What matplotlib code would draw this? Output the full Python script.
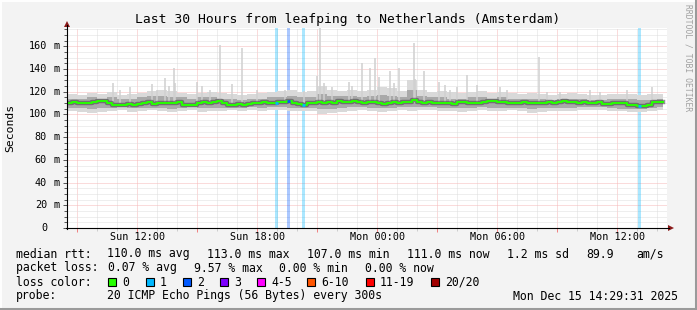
"""SmokePing style latency chart: leafping -> Netherlands (Amsterdam)."""

import matplotlib

matplotlib.use("Agg")
import matplotlib.pyplot as plt
import numpy as np
from matplotlib.lines import Line2D
from matplotlib.patches import Polygon, Rectangle

W, H = 697, 310
MONO = "DejaVu Sans Mono"
START_HOUR = 8 + 29 / 60 + 31 / 3600  # Sun 08:29:31, graph covers 30 hours

# median rtt in ms, one value per 15 minutes
median_rtt = [
    110.5, 110.8, 110.2, 110.0, 110.3, 110.8, 111.5, 112.2, 110.0, 108.8,
    108.5, 108.7, 108.9, 108.6, 109.5, 110.0, 110.8, 108.9, 110.5, 110.2,
    110.0, 110.4, 111.0, 108.7, 108.3, 108.6, 110.5, 110.8, 110.4, 110.6,
    111.5, 110.0, 108.5, 108.8, 109.2, 108.5, 109.5, 110.5, 110.3, 110.6,
    109.8, 110.0, 111.2, 111.0, 111.5, 110.2, 109.5, 108.0, 109.8, 110.2,
    110.6, 110.4, 110.6, 110.5, 112.0, 111.3, 111.0, 111.5, 110.6, 110.4,
    110.6, 110.8, 109.8, 109.6, 110.5, 110.8, 110.5, 111.0, 111.2, 112.8,
    111.0, 110.4, 110.6, 110.0, 109.8, 110.0, 110.2, 109.2, 110.6, 110.8,
    110.0, 109.8, 110.2, 111.4, 111.6, 111.5, 111.2, 110.6, 110.0, 109.8,
    110.5, 110.6, 110.3, 110.0, 109.8, 110.1, 110.6, 110.4, 110.7, 111.6,
    111.0, 110.8, 110.5, 110.6, 110.4, 110.5, 110.7, 109.5, 109.0, 109.8,
    110.1, 109.9, 108.6, 108.3, 107.5, 107.2, 108.0, 111.0, 111.2, 110.8,
]

# smoke envelope in ms, one value per 30 minutes
smoke_lo = [
    103, 102, 101, 102, 103, 104, 102, 103, 104, 103, 102, 103, 104, 102, 103,
    103, 104, 103, 104, 103, 104, 104, 103, 103, 103, 100, 101, 102, 103, 104,
    103, 102, 103, 104, 103, 104, 104, 103, 103, 102, 103, 104, 103, 103, 104,
    103, 101, 102, 103, 103, 103, 104, 104, 104, 103, 103, 102, 102, 103, 104,
]
smoke_hi = [
    118, 117, 119, 118, 120, 117, 118, 119, 121, 122, 121, 119, 118, 119, 120,
    119, 118, 117, 118, 119, 120, 121, 122, 120, 121, 125, 122, 121, 122, 121,
    122, 124, 123, 121, 130, 122, 120, 121, 120, 119, 120, 121, 119, 120, 119,
    118, 119, 118, 117, 118, 119, 118, 117, 117, 118, 118, 118, 117, 118, 118,
]
core_lo = [
    106, 106, 105, 106, 106, 107, 106, 106, 106, 106, 105, 106, 107, 106, 106,
    106, 106, 106, 107, 106, 107, 107, 106, 106, 106, 105, 105, 106, 107, 107,
    106, 106, 106, 107, 107, 107, 107, 106, 106, 106, 106, 107, 106, 106, 106,
    106, 105, 106, 106, 106, 106, 107, 107, 107, 106, 105, 105, 105, 106, 107,
]
core_hi = [
    114, 114, 115, 114, 115, 114, 114, 115, 116, 116, 115, 115, 114, 115, 115,
    114, 114, 113, 114, 114, 115, 115, 116, 115, 115, 118, 116, 116, 116, 115,
    116, 117, 116, 115, 122, 116, 115, 115, 114, 114, 115, 115, 114, 115, 114,
    114, 114, 114, 113, 114, 114, 114, 113, 113, 114, 114, 114, 113, 113, 114,
]

# single slow pings above the smoke: hour offset, ms
spike_hours = [
    2.28, 2.67, 3.17, 4.25, 4.5, 4.92, 5.08, 5.33, 5.42, 6.5, 6.75, 7.17,
    7.67, 8.25, 8.75, 9.5, 10.92, 11.83, 12.5, 12.67, 12.83, 13.25, 14.08,
    14.25, 14.75, 15.17, 15.42, 15.58, 16.17, 16.33, 16.58, 17.33, 17.42,
    17.83, 18.58, 18.92, 19.17, 19.5, 20.0, 20.5, 21.67, 22.0, 23.58, 24.0,
    24.67, 26.17, 26.67, 28.0, 29.25,
]
spike_tops = [
    128, 122, 124, 127, 122, 132, 125, 141, 128, 129, 125, 122,
    161, 127, 159, 122, 122, 121, 134, 176, 128, 124, 129,
    125, 145, 141, 150, 133, 138, 128, 141, 163, 131,
    138, 129, 126, 122, 124, 135, 126, 124, 122, 151, 120,
    120, 122, 120, 122, 124,
]

# packet loss events: hour offset, lost pings out of 20
loss_hours = [10.42, 11.0, 11.75, 28.53]
loss_counts = [1, 2, 1, 1]

loss_labels = ["0", "1", "2", "3", "4-5", "6-10", "11-19", "20/20"]
loss_colors = ["#26ff00", "#00b8ff", "#0059ff", "#7e00ff",
               "#ff00ff", "#ff5500", "#ff0000", "#a10000"]

x_tick_hours = [12, 18, 24, 30, 36]
x_tick_labels = ["Sun 12:00", "Sun 18:00", "Mon 00:00", "Mon 06:00", "Mon 12:00"]
y_ticks = [0, 20, 40, 60, 80, 100, 120, 140, 160]

stats_rtt = ["median rtt:", "110.0 ms avg", "113.0 ms max", "107.0 ms min",
             "111.0 ms now", "1.2 ms sd", "89.9", "am/s"]
stats_loss = ["packet loss:", "0.07 % avg", "9.57 % max", "0.00 % min", "0.00 % now"]
probe_text = "20 ICMP Echo Pings (56 Bytes) every 300s"
stamp_text = "Mon Dec 15 14:29:31 2025"


def px(x, y):
    """pixel position (from top left) to figure fraction"""
    return x / W, 1 - y / H


fig = plt.figure(figsize=(W / 100, H / 100), dpi=100, facecolor="#f3f3f3")
ax = fig.add_axes([67 / W, (H - 228) / H, 600 / W, 200 / H])
ax.set_facecolor("white")
ax.set_xlim(0, 30)
ax.set_ylim(0, 176.2)
for s in ax.spines.values():
    s.set_visible(False)

# grid
hour_lines = np.arange(9, 9 + 30) - START_HOUR
major_x = [h for h in hour_lines if round(h + START_HOUR) % 3 == 0]
ax.set_xticks(hour_lines, minor=True)
ax.set_xticks(major_x)
ax.set_xticklabels([""] * len(major_x))
ax.set_yticks(np.arange(0, 177, 5), minor=True)
ax.set_yticks(y_ticks)
ax.set_yticklabels([])
ax.grid(True, which="minor", color="#dedede", lw=0.72, ls=(0, (1, 1)))
ax.grid(True, which="major", color="#f7b8b8", lw=0.72, ls=(0, (1, 1)))
ax.tick_params(which="both", axis="y", length=3, width=0.7, color="#555555")
ax.tick_params(which="minor", axis="y", length=2)
ax.tick_params(which="major", axis="x", length=3, width=0.7, color="#f08080")
ax.tick_params(which="minor", axis="x", length=2, width=0.7, color="#cccccc")
ax.set_axisbelow(True)

for h, lab in zip(x_tick_hours, x_tick_labels):
    ax.text(h - START_HOUR, -0.045, lab, transform=ax.get_xaxis_transform(),
            ha="center", va="center", fontsize=7.3, family=MONO)
for v in y_ticks:
    ax.text(-20 / 600, v, str(v), transform=ax.get_yaxis_transform(),
            ha="right", va="center", fontsize=7.3, family=MONO)
    if v:
        ax.text(-13.5 / 600, v, "m", transform=ax.get_yaxis_transform(),
                ha="left", va="center", fontsize=7.3, family=MONO)

# loss background bars
for h, n in zip(loss_hours, loss_counts):
    ax.axvspan(h, h + 0.15, color=loss_colors[n], alpha=0.33, lw=0)

# smoke
t_s = np.arange(len(smoke_lo) + 1) * 0.5
t_s[-1] = 29.8
ax.fill_between(t_s, smoke_lo + smoke_lo[-1:], smoke_hi + smoke_hi[-1:],
                step="post", color="#d9d9d9", lw=0)
ax.vlines(spike_hours, 110.0, spike_tops, color="#d0d0d0", lw=1.1)
ax.fill_between(t_s, core_lo + core_lo[-1:], core_hi + core_hi[-1:],
                step="post", color="#a9a9a9", lw=0)

# median line
t_m = np.arange(len(median_rtt) + 1) * 0.25
t_m[-1] = 29.8
med = median_rtt + median_rtt[-1:]
ax.step(t_m, med, where="post", color="#4a4a4a", lw=3.2, alpha=0.6)
ax.step(t_m, med, where="post", color=loss_colors[0], lw=1.4)
for h, n in zip(loss_hours, loss_counts):
    v = median_rtt[int(h / 0.25)]
    ax.plot([h, h + 0.15], [v, v], color=loss_colors[n], lw=2.0,
            solid_capstyle="butt")

# axes with arrow heads
fig.add_artist(Line2D(*zip(px(67, 229), px(67, 25)), color="black", lw=0.8))
fig.add_artist(Line2D(*zip(px(66, 228), px(669, 228)), color="black", lw=0.8))
fig.add_artist(Polygon([px(64, 27), px(70, 27), px(67, 21)], closed=True,
                       color="#8b1a1a", lw=0))
fig.add_artist(Polygon([px(668, 225), px(668, 231), px(674, 228)], closed=True,
                       color="#8b1a1a", lw=0))

# titles
fig.text(*px(348, 19), "Last 30 Hours from leafping to Netherlands (Amsterdam)",
         ha="center", va="center", fontsize=9.4, family=MONO)
fig.text(*px(10, 128), "Seconds", rotation=90, ha="center", va="center",
         fontsize=8.2, family=MONO)
fig.text(*px(688, 58), "RRDTOOL / TOBI OETIKER", rotation=270, ha="center",
         va="center", fontsize=5.8, family=MONO, color="#a0a0a0")

# legend block
rtt_x = [16, 107, 207, 307, 407, 507, 586, 636]
for x, s in zip(rtt_x, stats_rtt):
    fig.text(*px(x, 254), s, ha="left", va="center", fontsize=8.3, family=MONO)
loss_x = [16, 108, 194, 279, 365]
for x, s in zip(loss_x, stats_loss):
    fig.text(*px(x, 268), s, ha="left", va="center", fontsize=8.3, family=MONO)
fig.text(*px(16, 282), "loss color:", ha="left", va="center", fontsize=8.3,
         family=MONO)
box_x = [108, 146, 183, 220, 257, 307, 366, 431]
for x, lab, c in zip(box_x, loss_labels, loss_colors):
    fig.add_artist(Rectangle(px(x, 286), 8 / W, 8 / H, facecolor=c,
                             edgecolor="black", lw=0.8))
    fig.text(*px(x + 14, 282), lab, ha="left", va="center", fontsize=8.3,
             family=MONO)
fig.text(*px(16, 296), "probe:", ha="left", va="center", fontsize=8.3, family=MONO)
fig.text(*px(107, 296), probe_text, ha="left", va="center", fontsize=8.3,
         family=MONO)
fig.text(*px(513, 296), stamp_text, ha="left", va="center", fontsize=8.3,
         family=MONO)

# 3d frame
fig.add_artist(Line2D([0, 1], [1 - 1 / H] * 2, color="#ffffff", lw=1.4))
fig.add_artist(Line2D([1 / W] * 2, [0, 1], color="#ffffff", lw=1.4))
fig.add_artist(Line2D([0, 1], [1.5 / H] * 2, color="#9a9a9a", lw=2.2))
fig.add_artist(Line2D([1 - 1.5 / W] * 2, [0, 1], color="#9a9a9a", lw=2.2))

fig.savefig("out.png", dpi=100, facecolor=fig.get_facecolor())
plt.close(fig)
